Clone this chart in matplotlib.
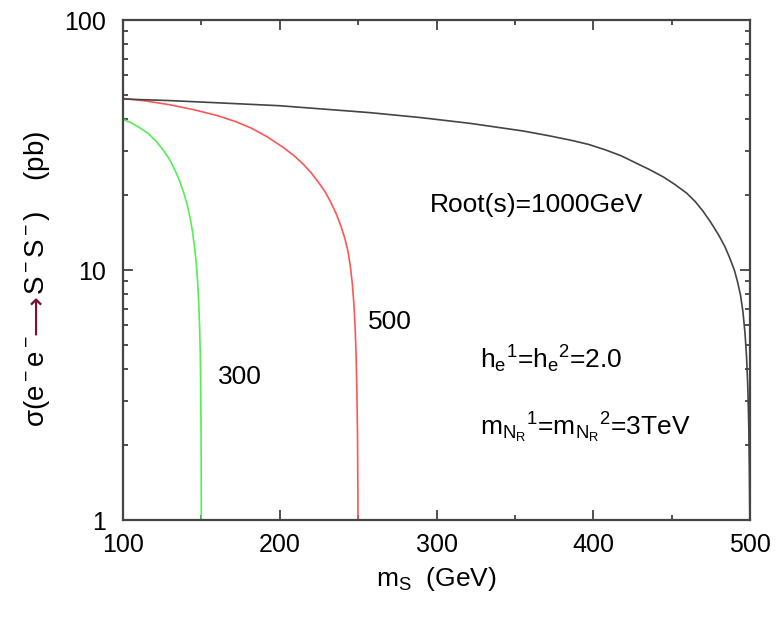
import matplotlib

matplotlib.use("Agg")
import matplotlib.pyplot as plt
from matplotlib import font_manager
from matplotlib.ticker import FixedLocator, MultipleLocator, NullFormatter

# values
m_300 = [100, 105, 110, 116, 121, 125.5, 129.5, 133, 136, 138.6, 140.8,
         142.7, 144.3, 145.6, 146.7, 147.6, 148.3, 148.9, 149.3, 149.6,
         149.8, 149.93, 150]
sig_300 = [40, 38.9, 37.3, 35.2, 32.8, 30.3, 27.8, 25.2, 22.8, 20.5, 18.4,
           16.3, 14.3, 12.4, 10.7, 9, 7.4, 5.9, 4.6, 3.3,
           2.2, 1.3, 0.5]

m_500 = [100, 115, 130, 145, 160, 172, 182, 192, 202, 209, 215, 220, 225,
         229, 232.5, 236, 239, 241.5, 243.5, 245, 246.3, 247.3, 248.1,
         248.7, 249.2, 249.6, 249.85, 250]
sig_500 = [48.6, 47.4, 45.8, 43.8, 41.5, 39.2, 36.9, 34.1, 31, 28.7, 26.5,
           24.5, 22.3, 20.5, 18.7, 16.8, 15, 13.4, 11.9, 10.4, 8.8, 7.3, 5.9,
           4.6, 3.3, 2.2, 1.3, 0.5]

m_1000 = [100, 130, 158.7, 200, 257.6, 290, 321.4, 355, 370, 385.2, 397,
          408, 418, 427.7, 436, 445, 452, 459.6, 465, 470, 475, 480, 484,
          487, 490, 492, 494, 495.5, 496.8, 497.8, 498.6, 499.2, 499.6,
          499.9, 500]
sig_1000 = [48.3, 47.6, 46.7, 45.4, 42.6, 40.7, 38.6, 36, 34.6, 33.1, 31.8,
            30.2, 28.6, 26.7, 25.2, 23.5, 22, 20.3, 18.8, 17.2, 15.5, 13.8,
            12.4, 11.2, 10, 9, 7.9, 6.8, 5.6, 4.5, 3.4, 2.4, 1.6,
            1.0, 0.5]

x_ticks = [100, 200, 300, 400, 500]
y_ticks = [1, 10, 100]
y_minor = [2, 3, 4, 5, 6, 7, 8, 9, 20, 30, 40, 50, 60, 70, 80, 90]


def pick_font(names):
    have = {f.name for f in font_manager.fontManager.ttflist}
    return [n for n in names if n in have] + ["DejaVu Sans"]


fonts = pick_font(["Liberation Sans Narrow", "Liberation Sans"])
plt.rcParams["font.family"] = fonts
plt.rcParams["mathtext.fontset"] = "custom"
plt.rcParams["mathtext.rm"] = fonts[0]
plt.rcParams["mathtext.it"] = fonts[0]
plt.rcParams["mathtext.default"] = "regular"

fig = plt.figure(figsize=(7.78, 6.18), dpi=100)
ax = fig.add_axes([123 / 778, 98 / 618, 627 / 778, 500 / 618])

ax.plot(m_300, sig_300, color="#55ee55", lw=1.2)
ax.plot(m_500, sig_500, color="#ff5555", lw=1.2)
ax.plot(m_1000, sig_1000, color="#444444", lw=1.2)

ax.set_yscale("log")
ax.set_xlim(100, 500)
ax.set_ylim(1, 100)
ax.xaxis.set_major_locator(FixedLocator(x_ticks))
ax.xaxis.set_minor_locator(MultipleLocator(50))
ax.yaxis.set_major_locator(FixedLocator(y_ticks))
ax.yaxis.set_minor_locator(FixedLocator(y_minor))
ax.yaxis.set_minor_formatter(NullFormatter())
ax.set_xticklabels([str(v) for v in x_ticks])
ax.set_yticklabels([str(v) for v in y_ticks])

ax.tick_params(which="both", direction="in", top=True, right=True,
               color="#333333", labelsize=18)
ax.tick_params(which="major", length=7, width=1.2)
ax.tick_params(which="minor", length=3.5, width=1.2)
ax.tick_params(axis="x", pad=9)
ax.tick_params(axis="y", pad=12)
for sp in ax.spines.values():
    sp.set_color("#444444")
    sp.set_linewidth(1.6)

ax.set_xlabel(r"$m_S$  (GeV)", fontsize=19, labelpad=6)

# y label built from pieces so the arrow can be coloured
base_x = 44 / 778
t1 = fig.text(base_x, 1 - 427 / 618, r"$\sigma(e^-e^-$", fontsize=20,
              rotation=90, rotation_mode="anchor", ha="left", va="baseline")
t2 = ax.annotate("\u27f6", xy=(base_x, 1.0), xycoords=("figure fraction", t1),
                 fontsize=20, family="DejaVu Sans", rotation=90,
                 rotation_mode="anchor", ha="left", va="baseline",
                 color="#7a1030", annotation_clip=False)
ax.annotate(r"$S^-S^-)$    (pb)", xy=(base_x, 1.0),
            xycoords=("figure fraction", t2), fontsize=20, rotation=90,
            rotation_mode="anchor", ha="left", va="baseline",
            annotation_clip=False)

ax.text(296, 18.2, "Root(s)=1000GeV", fontsize=19, ha="left", va="center")
ax.text(160.6, 3.72, "300", fontsize=19, ha="left", va="center")
ax.text(256.3, 6.17, "500", fontsize=19, ha="left", va="center")
ax.text(327.8, 4.4, r"$h_e{}^1$=$h_e{}^2$=2.0", fontsize=19,
        ha="left", va="center")
ax.text(327.8, 2.33, r"$m_{N_R}{}^1$=$m_{N_R}{}^2$=3TeV", fontsize=19,
        ha="left", va="center")

fig.savefig("out.png", dpi=100, facecolor="white")
